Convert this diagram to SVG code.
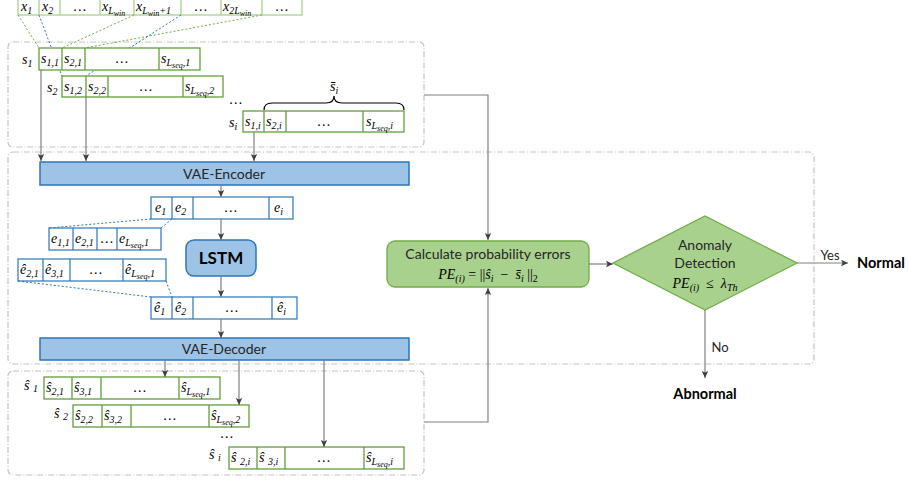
<svg xmlns="http://www.w3.org/2000/svg" width="909" height="482" viewBox="0 0 909 482">
<style>
.gt{fill:#fff;stroke:#A9D18E;stroke-width:1.3}
.g{fill:#fff;stroke:#629E3E;stroke-width:1.3}
.gl{stroke:#629E3E;stroke-width:1.3}
.b{fill:#fff;stroke:#2E75B6;stroke-width:1.2}
.bl{stroke:#2E75B6;stroke-width:1.2}
.enc{fill:#9DC3E6;stroke:#2E75B6;stroke-width:1.5}
.calc{fill:#A9D18E;stroke:#70AD47;stroke-width:1.3}
.region{fill:none;stroke:#C4C4C4;stroke-width:1.2;stroke-dasharray:6 2 1 2}
.conn{fill:none;stroke:#808080;stroke-width:1.2;marker-end:url(#ah)}
.gd{fill:none;stroke:#70AD47;stroke-width:1;stroke-dasharray:2 2}
.bd{fill:none;stroke:#2E75B6;stroke-width:1;stroke-dasharray:2 2}
.m{font-family:"Liberation Serif","DejaVu Serif",serif;font-style:italic;font-size:14px;fill:#000}
.mc{font-family:"Liberation Serif","DejaVu Serif",serif;font-style:italic;font-size:14px;fill:#000;text-anchor:middle}
.t{font-family:Lato,"Open Sans",sans-serif;font-size:14px;fill:#262626;text-anchor:middle}
.bold{font-family:Lato,"Open Sans",sans-serif;font-weight:bold;fill:#000;text-anchor:middle}
</style>
<defs>
<marker id="ah" markerWidth="8" markerHeight="8" refX="7" refY="4" orient="auto" markerUnits="userSpaceOnUse">
<path d="M0,0.8 L7,4 L0,7.2 L1.5,4 z" fill="#404040"/>
</marker>
</defs>

<g id="regions">
<rect class="region" x="8" y="42" width="416" height="105" rx="5"/>
<rect class="region" x="8" y="152" width="806" height="212" rx="5"/>
<rect class="region" x="8" y="371" width="416" height="104" rx="5"/>
</g>

<g id="input-row">
<rect class="gt" x="18" y="-1" width="284" height="16"/>
<path d="M39,-1V15M60,-1V15M100,-1V15M134,-1V15M181,-1V15M221,-1V15M262,-1V15" stroke="#A9D18E" stroke-width="1.3"/>
<text class="m" x="21" y="11">x<tspan font-size="10" dy="3">1</tspan></text>
<text class="m" x="42" y="11">x<tspan font-size="10" dy="3">2</tspan></text>
<text class="mc" x="80" y="11">…</text>
<text class="m" x="102" y="11">x<tspan font-size="10" dy="3">L</tspan><tspan font-size="8" dy="2">win</tspan></text>
<text class="m" x="136" y="11">x<tspan font-size="10" dy="3">L</tspan><tspan font-size="8" dy="2">win</tspan><tspan font-size="10" dy="-2">+1</tspan></text>
<text class="mc" x="201" y="11">…</text>
<text class="m" x="223" y="11">x<tspan font-size="10" dy="3">2L</tspan><tspan font-size="8" dy="2">win</tspan></text>
<text class="mc" x="282" y="11">…</text>
</g>

<g id="mapping-lines">
<path class="gd" d="M18,15L39,48M134,15L62,48M262,15L85,48"/>
<path class="bd" d="M39,15L62,76M181,15L86,76"/>
</g>

<g id="seq-s1">
<text class="m" x="22" y="64">s<tspan font-size="10" dy="3">1</tspan></text>
<rect class="g" x="39" y="48" width="161" height="22"/>
<path class="gl" d="M62,48V70M85,48V70M159,48V70"/>
<text class="m" x="41" y="63">s<tspan font-size="10" dy="3">1,1</tspan></text>
<text class="m" x="64" y="63">s<tspan font-size="10" dy="3">2,1</tspan></text>
<text class="mc" x="122" y="63">…</text>
<text class="m" x="161" y="63">s<tspan font-size="10" dy="3">L</tspan><tspan font-size="8" dy="2">seq</tspan><tspan font-size="10" dy="-2">,1</tspan></text>
</g>

<g id="seq-s2">
<text class="m" x="47" y="92">s<tspan font-size="10" dy="3">2</tspan></text>
<rect class="g" x="62" y="76" width="161" height="21"/>
<path class="gl" d="M86,76V97M108,76V97M183,76V97"/>
<text class="m" x="64" y="91">s<tspan font-size="10" dy="3">1,2</tspan></text>
<text class="m" x="88" y="91">s<tspan font-size="10" dy="3">2,2</tspan></text>
<text class="mc" x="146" y="91">…</text>
<text class="m" x="185" y="91">s<tspan font-size="10" dy="3">L</tspan><tspan font-size="8" dy="2">seq</tspan><tspan font-size="10" dy="-2">,2</tspan></text>
</g>

<text class="mc" x="236" y="104">…</text>

<g id="seq-si">
<text class="m" x="229" y="127">s<tspan font-size="10" dy="3">i</tspan></text>
<rect class="g" x="243" y="111" width="161" height="21"/>
<path class="gl" d="M264,111V132M286,111V132M363,111V132"/>
<text class="m" x="245" y="126">s<tspan font-size="10" dy="3">1,i</tspan></text>
<text class="m" x="266" y="126">s<tspan font-size="10" dy="3">2,i</tspan></text>
<text class="mc" x="324" y="126">…</text>
<text class="m" x="366" y="126">s<tspan font-size="10" dy="3">L</tspan><tspan font-size="8" dy="2">seq</tspan><tspan font-size="10" dy="-2">,i</tspan></text>
<path d="M264,110Q264,103 272,103L326,103Q334,103 334,96Q334,103 342,103L396,103Q404,103 404,110" fill="none" stroke="#000" stroke-width="1.2"/>
<text class="m" x="330" y="91">s̄<tspan font-size="10" dy="3">i</tspan></text>
</g>

<g id="vae-encoder">
<rect class="enc" x="40" y="162" width="369" height="23"/>
<text class="t" x="224" y="179">VAE-Encoder</text>
</g>

<g id="latent-e">
<rect class="b" x="151" y="197" width="142" height="22"/>
<path class="bl" d="M172,197V219M193,197V219M269,197V219"/>
<text class="m" x="155" y="212">e<tspan font-size="10" dy="3">1</tspan></text>
<text class="m" x="175" y="212">e<tspan font-size="10" dy="3">2</tspan></text>
<text class="mc" x="231" y="212">…</text>
<text class="m" x="274" y="212">e<tspan font-size="10" dy="3">i</tspan></text>
</g>

<g id="latent-e1">
<rect class="b" x="49" y="228" width="112" height="22"/>
<path class="bl" d="M73,228V250M97,228V250M117,228V250"/>
<text class="m" x="51" y="243">e<tspan font-size="10" dy="3">1,1</tspan></text>
<text class="m" x="75" y="243">e<tspan font-size="10" dy="3">2,1</tspan></text>
<text class="mc" x="107" y="243">…</text>
<text class="m" x="119" y="243">e<tspan font-size="10" dy="3">L</tspan><tspan font-size="8" dy="2">seq</tspan><tspan font-size="10" dy="-2">,1</tspan></text>
</g>

<g id="pred-e1">
<rect class="b" x="18" y="259" width="148" height="22"/>
<path class="bl" d="M43,259V281M70,259V281M123,259V281"/>
<text class="m" x="20" y="274">ê<tspan font-size="10" dy="3">2,1</tspan></text>
<text class="m" x="45" y="274">ê<tspan font-size="10" dy="3">3,1</tspan></text>
<text class="mc" x="96" y="274">…</text>
<text class="m" x="125" y="274">ê<tspan font-size="10" dy="3">L</tspan><tspan font-size="8" dy="2">seq</tspan><tspan font-size="10" dy="-2">,1</tspan></text>
</g>

<g id="lstm">
<rect class="enc" x="186" y="240" width="70" height="36" rx="8"/>
<text class="bold" x="221" y="264" font-size="17">LSTM</text>
</g>

<g id="pred-e">
<rect class="b" x="151" y="297" width="146" height="22"/>
<path class="bl" d="M172,297V319M193,297V319M272,297V319"/>
<text class="m" x="154" y="312">ê<tspan font-size="10" dy="3">1</tspan></text>
<text class="m" x="175" y="312">ê<tspan font-size="10" dy="3">2</tspan></text>
<text class="mc" x="232" y="312">…</text>
<text class="m" x="277" y="312">ê<tspan font-size="10" dy="3">i</tspan></text>
</g>

<g id="latent-lines">
<path class="bd" d="M151,219L49,228M172,219L161,228M18,281L151,297M166,281L172,297"/>
</g>

<g id="vae-decoder">
<rect class="enc" x="40" y="338" width="369" height="22"/>
<text class="t" x="224" y="354">VAE-Decoder</text>
</g>

<g id="recon-s1">
<text class="m" x="24" y="390">ŝ <tspan font-size="10" dy="2">1</tspan></text>
<rect class="g" x="44" y="377" width="176" height="22"/>
<path class="gl" d="M72,377V399M101,377V399M179,377V399"/>
<text class="m" x="46" y="392">ŝ<tspan font-size="10" dy="3">2,1</tspan></text>
<text class="m" x="74" y="392">ŝ<tspan font-size="10" dy="3">3,1</tspan></text>
<text class="mc" x="140" y="392">…</text>
<text class="m" x="181" y="392">ŝ<tspan font-size="10" dy="3">L</tspan><tspan font-size="8" dy="2">seq</tspan><tspan font-size="10" dy="-2">,1</tspan></text>
</g>

<g id="recon-s2">
<text class="m" x="54" y="418">ŝ <tspan font-size="10" dy="2">2</tspan></text>
<rect class="g" x="73" y="405" width="176" height="22"/>
<path class="gl" d="M102,405V427M131,405V427M209,405V427"/>
<text class="m" x="75" y="420">ŝ<tspan font-size="10" dy="3">2,2</tspan></text>
<text class="m" x="104" y="420">ŝ<tspan font-size="10" dy="3">3,2</tspan></text>
<text class="mc" x="170" y="420">…</text>
<text class="m" x="211" y="420">ŝ<tspan font-size="10" dy="3">L</tspan><tspan font-size="8" dy="2">seq</tspan><tspan font-size="10" dy="-2">,2</tspan></text>
</g>

<text class="mc" x="227" y="438">…</text>

<g id="recon-si">
<text class="m" x="209" y="459">ŝ <tspan font-size="10" dy="2">i</tspan></text>
<rect class="g" x="229" y="447" width="175" height="22"/>
<path class="gl" d="M257,447V469M285,447V469M364,447V469"/>
<text class="m" x="231" y="462">ŝ <tspan font-size="10" dy="3">2,i</tspan></text>
<text class="m" x="259" y="462">ŝ <tspan font-size="10" dy="3">3,i</tspan></text>
<text class="mc" x="324" y="462">…</text>
<text class="m" x="366" y="462">ŝ<tspan font-size="10" dy="3">L</tspan><tspan font-size="8" dy="2">seq</tspan><tspan font-size="10" dy="-2">,i</tspan></text>
</g>

<g id="calc-errors">
<rect class="calc" x="387" y="241" width="202" height="46" rx="8"/>
<text class="t" x="488" y="259" font-size="14.5">Calculate probability errors</text>
<text class="mc" x="488" y="279" font-size="15">PE<tspan font-size="10" dy="3">(i)</tspan><tspan dy="-3" font-style="normal"> = ||</tspan>ŝ<tspan font-size="10" dy="3">i</tspan><tspan dy="-3" font-style="normal">&#160;&#160;−&#160;&#160;</tspan>s̄<tspan font-size="10" dy="3">i</tspan><tspan dy="-3" font-style="normal">&#160;||</tspan><tspan font-size="10" dy="3" font-style="normal">2</tspan></text>
</g>

<g id="anomaly-detection">
<polygon points="613,263 705,216 797,263 705,310" fill="#A9D18E" stroke="#70AD47" stroke-width="1.3"/>
<text class="t" x="705" y="250">Anomaly</text>
<text class="t" x="705" y="268">Detection</text>
<text class="mc" x="705" y="288" font-size="15">PE<tspan font-size="10" dy="3">(i)</tspan><tspan dy="-3" font-style="normal">&#160;&#160;≤&#160;&#160;</tspan>λ<tspan font-size="10" dy="3">Th</tspan></text>
</g>

<g id="normal">
<text class="bold" x="881" y="268" font-size="14.5">Normal</text>
</g>
<g id="abnormal">
<text class="bold" x="705" y="399" font-size="14.5">Abnormal</text>
</g>

<g id="connectors">
<path class="conn" d="M41,70V161"/>
<path class="conn" d="M86,97V161"/>
<path class="conn" d="M254,132V161"/>
<path class="conn" d="M424,95H488V240"/>
<path class="conn" d="M221,185V197"/>
<path class="conn" d="M221,219V240"/>
<path class="conn" d="M221,276V297"/>
<path class="conn" d="M221,319V338"/>
<path class="conn" d="M165,360V377"/>
<path class="conn" d="M239,360V405"/>
<path class="conn" d="M324,360V447"/>
<path class="conn" d="M424,422H488V288"/>
<path class="conn" d="M589,264H613"/>
<path class="conn" d="M797,263H848"/>
<path class="conn" d="M705,310V378"/>
<text x="830" y="260" font-family="Lato,'Open Sans',sans-serif" font-size="13" fill="#262626" text-anchor="middle">Yes</text>
<text x="720" y="352" font-family="Lato,'Open Sans',sans-serif" font-size="13" fill="#262626" text-anchor="middle">No</text>
</g>
</svg>
